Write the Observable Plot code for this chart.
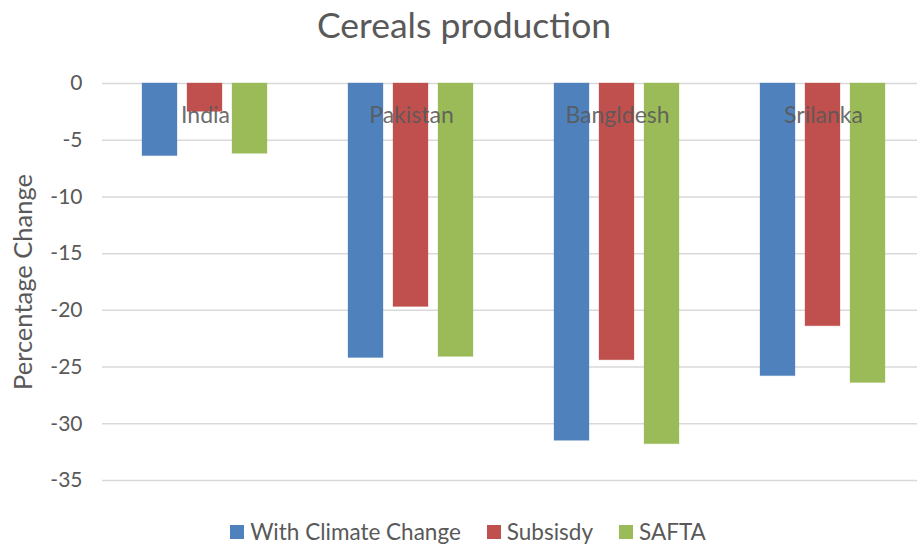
<!DOCTYPE html>
<html>
<head>
<meta charset="utf-8">
<script src="https://cdn.jsdelivr.net/npm/d3@7"></script>
<script src="https://cdn.jsdelivr.net/npm/@observablehq/plot@0.6"></script>
<style>
  html, body { margin: 0; padding: 0; background: #fff; }
  #wrap { position: relative; width: 917px; height: 548px; overflow: hidden; font-family: Lato, "Open Sans", sans-serif; color: #595959; }
  #title { position: absolute; left: 11px; top: 3px; width: 906px; text-align: center; font-size: 35.5px; }
  #ylabel { position: absolute; left: 22px; top: 282px; transform: translate(-50%, -50%) rotate(-90deg); white-space: nowrap; font-size: 25.5px; }
  #legend { position: absolute; left: 0; top: 518px; width: 917px; display: flex; justify-content: center; padding-left: 19px; box-sizing: border-box; font-size: 22.5px; }
  .item { display: flex; align-items: center; margin: 0 13px; }
  .sw { width: 14px; height: 14px; margin-right: 6px; }
  #chart { position: absolute; left: 0; top: 0; }
</style>
</head>
<body>
<div id="wrap">
  <div id="chart"></div>
  <div id="title">Cereals production</div>
  <div id="ylabel">Percentage Change</div>
  <div id="legend"></div>
</div>
<script>
const countries = ["India", "Pakistan", "Bangldesh", "Srilanka"];
const series = ["With Climate Change", "Subsisdy", "SAFTA"];
const climateChange = [-6.4, -24.2, -31.5, -25.8];
const subsidy = [-2.5, -19.7, -24.4, -21.4];
const safta = [-6.2, -24.1, -31.8, -26.4];
const colors = ["#4f81bd", "#c0504d", "#9bbb59"];
const yTicks = [0, -5, -10, -15, -20, -25, -30, -35];
const labelValue = -2.8;

const seriesValues = [climateChange, subsidy, safta];
const data = [];
countries.forEach((c, i) => {
  series.forEach((s, j) => data.push({country: c, series: s, value: seriesValues[j][i]}));
});

const chart = Plot.plot({
  width: 917,
  height: 548,
  marginTop: 83,
  marginBottom: 68,
  marginLeft: 101,
  marginRight: -9,
  style: {fontFamily: "Lato, 'Open Sans', sans-serif", overflow: "hidden"},
  fx: {domain: countries, padding: 0, axis: null},
  x: {domain: series, paddingInner: 0.217, paddingOuter: 0.853, axis: null},
  y: {domain: [-35, 0], axis: null},
  color: {domain: series, range: colors},
  marks: [
    Plot.ruleY(yTicks, {stroke: "#d9d9d9", strokeWidth: 1.5}),
    Plot.barY(data, {fx: "country", x: "series", y: "value", fill: "series", stroke: "series", strokeOpacity: 0.3, strokeWidth: 1}),
    Plot.text(countries, {fx: d => d, y: () => labelValue, text: d => d, fill: "#595959", fontSize: 23, fillOpacity: 0.9}),
    Plot.axisY(yTicks, {anchor: "left", tickSize: 0, tickPadding: 20, fontSize: 21, color: "#595959", label: null, tickFormat: d => String(d)})
  ]
});
document.getElementById("chart").appendChild(chart);

const legend = document.getElementById("legend");
series.forEach((s, j) => {
  const it = document.createElement("div");
  it.className = "item";
  const sw = document.createElement("div");
  sw.className = "sw";
  sw.style.background = colors[j];
  const t = document.createElement("span");
  t.textContent = s;
  it.appendChild(sw); it.appendChild(t);
  legend.appendChild(it);
});
</script>
</body>
</html>
